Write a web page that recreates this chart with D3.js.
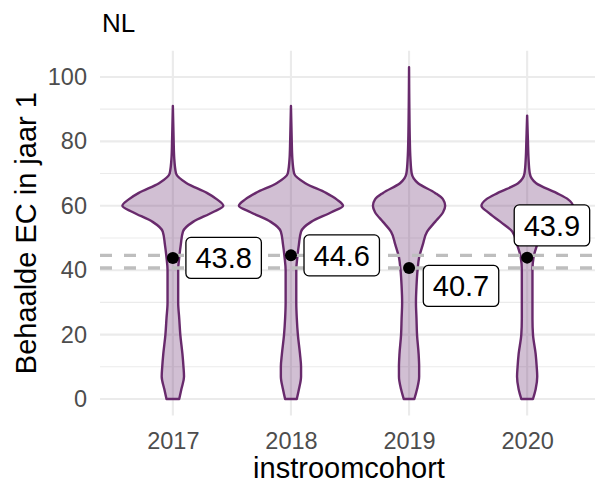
<!DOCTYPE html>
<html>
<head>
<meta charset="utf-8">
<script src="https://d3js.org/d3.v7.min.js"></script>
<style>
  body { margin: 0; background: #fff; }
  text { font-family: "Liberation Sans", Arial, sans-serif; }
</style>
</head>
<body>
<div id="chart"></div>
<script>
// cohorts and mean EC per cohort
const years = ["2017", "2018", "2019", "2020"];
const meanEC = [43.8, 44.6, 40.7, 43.9];
const maxEC = [91, 91, 103, 88];
const yTicks = [0, 20, 40, 60, 80, 100];

// violin half-widths (relative to max width) at these EC values
const ecGrid = [0, 3, 7, 10, 14, 20, 25, 30, 35, 40, 44, 48, 52, 55, 58, 60, 62, 64, 67, 70, 75, 80];
const dens2017 = [.12, .16, .21, .20, .18, .14, .12, .10, .10, .10, .12, .15, .19, .38, .75, .95, .83, .64, .26, .06, .025, .015];
const dens2018 = [.11, .15, .19, .19, .17, .13, .11, .10, .10, .10, .12, .15, .19, .38, .76, .98, .86, .66, .27, .06, .025, .015];
const dens2019 = [.10, .15, .19, .19, .18, .15, .14, .13, .14, .16, .19, .26, .34, .49, .64, .68, .64, .49, .17, .05, .025, .015];
const dens2020 = [.11, .16, .19, .18, .16, .11, .10, .10, .10, .10, .12, .19, .28, .50, .74, .86, .77, .55, .17, .05, .025, .015];
const densities = [dens2017, dens2018, dens2019, dens2020];

// label shift (repel) in category / EC units
const labelShiftX = [0.43, 0.43, 0.44, 0.21];
const labelShiftY = [0, 0, -5.6, 10];

const width = 595, height = 486;
const panel = { left: 102, right: 598, top: 50.7, bottom: 415.6 };
const purple = "#682a6c";

const svg = d3.select("#chart").append("svg")
    .attr("width", width)
    .attr("height", height);

const x = d3.scalePoint().domain(years).range([panel.left, panel.right]).padding(0.6);
const hi = d3.max(maxEC), lo = 0, pad = 0.05 * (hi - lo);
const y = d3.scaleLinear().domain([lo - pad, hi + pad]).range([panel.bottom, panel.top]);
const halfMax = 0.45 * x.step();

// grid
const minor = d3.range(10, 100, 20);
svg.append("g").selectAll("line").data(minor).join("line")
    .attr("x1", panel.left - 2).attr("x2", panel.right)
    .attr("y1", d => y(d)).attr("y2", d => y(d))
    .attr("stroke", "#ebebeb").attr("stroke-width", 1.1);
svg.append("g").selectAll("line").data(yTicks).join("line")
    .attr("x1", panel.left - 2).attr("x2", panel.right)
    .attr("y1", d => y(d)).attr("y2", d => y(d))
    .attr("stroke", "#ebebeb").attr("stroke-width", 2.1);
svg.append("g").selectAll("line").data(years).join("line")
    .attr("x1", d => x(d)).attr("x2", d => x(d))
    .attr("y1", panel.top).attr("y2", panel.bottom)
    .attr("stroke", "#ebebeb").attr("stroke-width", 2.1);

// violins
const area = d3.area()
    .y(d => y(d[0]))
    .x0(d => d.cx - d[1] * halfMax)
    .x1(d => d.cx + d[1] * halfMax)
    .curve(d3.curveMonotoneY);

years.forEach((yr, i) => {
    const pts = ecGrid.map((v, j) => [v, densities[i][j]]);
    pts.push([maxEC[i], 0]);
    pts.forEach(p => p.cx = x(yr));
    svg.append("path")
        .datum(pts)
        .attr("d", area)
        .attr("fill", purple).attr("fill-opacity", 0.3)
        .attr("stroke", purple).attr("stroke-width", 2.4)
        .attr("stroke-linejoin", "round");
});

// dashed reference lines at highest and lowest mean
svg.append("g").selectAll("line").data(d3.extent(meanEC)).join("line")
    .attr("x1", panel.left - 2).attr("x2", panel.right)
    .attr("y1", d => y(d)).attr("y2", d => y(d))
    .attr("stroke", "#bebebe").attr("stroke-width", 3.4)
    .attr("stroke-dasharray", "12 12");

// mean points
svg.append("g").selectAll("circle").data(years).join("circle")
    .attr("cx", d => x(d)).attr("cy", (d, i) => y(meanEC[i]))
    .attr("r", 6).attr("fill", "#000");

// labels
years.forEach((yr, i) => {
    const cx = x(yr) + labelShiftX[i] * x.step();
    const cy = y(meanEC[i] + labelShiftY[i]);
    const g = svg.append("g");
    const rect = g.append("rect");
    const t = g.append("text")
        .attr("x", cx).attr("y", cy).attr("dy", "0.36em")
        .attr("text-anchor", "middle")
        .style("font-size", "29px").attr("fill", "#000")
        .text(meanEC[i].toFixed(1));
    const w = t.node().getComputedTextLength() + 19;
    const h = 41;
    rect.attr("x", cx - w / 2).attr("y", cy - h / 2)
        .attr("width", w).attr("height", h)
        .attr("rx", 5).attr("ry", 5)
        .attr("fill", "#fff").attr("stroke", "#000").attr("stroke-width", 1.3);
});

// axes
const yAxis = svg.append("g")
    .attr("transform", `translate(${panel.left},0)`)
    .call(d3.axisLeft(y).tickValues(yTicks).tickSize(0).tickPadding(15));
yAxis.select(".domain").remove();
yAxis.selectAll("text").style("font-size", "23.5px").attr("fill", "#4d4d4d")
    .style("font-family", "Liberation Sans, Arial, sans-serif");

const xAxis = svg.append("g")
    .attr("transform", `translate(0,${panel.bottom})`)
    .call(d3.axisBottom(x).tickSize(0).tickPadding(17));
xAxis.select(".domain").remove();
xAxis.selectAll("text").style("font-size", "23.5px").attr("fill", "#4d4d4d")
    .style("font-family", "Liberation Sans, Arial, sans-serif");

// titles
svg.append("text")
    .attr("x", (panel.left + panel.right) / 2 - 1).attr("y", 478)
    .attr("text-anchor", "middle").style("font-size", "29px").attr("fill", "#000")
    .text("instroomcohort");

svg.append("text")
    .attr("transform", `translate(36,${(panel.top + panel.bottom) / 2}) rotate(-90)`)
    .attr("text-anchor", "middle").style("font-size", "29px").attr("fill", "#000")
    .text("Behaalde EC in jaar 1");

svg.append("text")
    .attr("x", panel.left).attr("y", 32)
    .style("font-size", "26px").attr("fill", "#000")
    .text("NL");
</script>
</body>
</html>
